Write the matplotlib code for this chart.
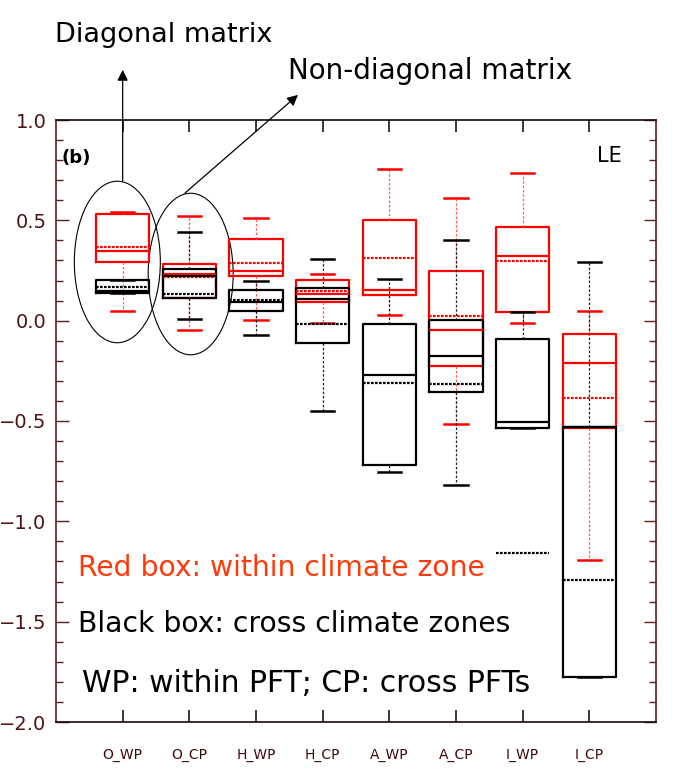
import matplotlib
matplotlib.use("Agg")
import matplotlib.pyplot as plt
from matplotlib.patches import Ellipse
from matplotlib.ticker import MultipleLocator, FixedLocator

plt.rcParams["xtick.direction"] = "in"
plt.rcParams["ytick.direction"] = "in"
plt.rcParams["xtick.top"] = True
plt.rcParams["xtick.bottom"] = True
plt.rcParams["xtick.major.size"] = 8.5
plt.rcParams["xtick.major.width"] = 1.1

categories = ["O_WP", "O_CP", "H_WP", "H_CP", "A_WP", "A_CP", "I_WP", "I_CP"]

# Red boxes: within climate zone
red_whishi = [0.540, 0.520, 0.510, 0.235, 0.755, 0.610, 0.735, 0.047]
red_q3     = [0.530, 0.283, 0.405, 0.203, 0.503, 0.248, 0.468, -0.067]
red_med    = [0.347, 0.235, 0.250, 0.133, 0.155, -0.048, 0.320, -0.212]
red_mean   = [0.367, 0.220, 0.288, 0.150, 0.313, 0.025, 0.297, -0.385]
red_q1     = [0.292, 0.115, 0.225, 0.093, 0.127, -0.228, 0.045, -0.537]
red_whislo = [0.047, -0.047, 0.005, -0.010, 0.030, -0.517, -0.012, -1.193]

# Black boxes: cross climate zones
blk_whishi = [0.203, 0.440, 0.200, 0.308, 0.208, 0.403, 0.043, 0.292]
blk_q3     = [0.203, 0.258, 0.155, 0.163, -0.015, 0.005, -0.093, -0.528]
blk_med    = [0.150, 0.225, 0.092, 0.110, -0.273, -0.175, -0.505, -0.528]
blk_mean   = [0.167, 0.133, 0.103, -0.017, -0.310, -0.317, -1.160, -1.290]
blk_q1     = [0.140, 0.113, 0.048, -0.113, -0.717, -0.355, -0.533, -1.778]
blk_whislo = [0.140, 0.008, -0.073, -0.452, -0.753, -0.820, -0.533, -1.778]

yticks = [1.0, 0.5, 0.0, -0.5, -1.0, -1.5, -2.0]

AXC = "#5a1e1e"

def stats(whislo, q1, med, mean, q3, whishi):
    out = []
    for a, b, c, d, e, f in zip(whislo, q1, med, mean, q3, whishi):
        out.append(dict(whislo=a, q1=b, med=c, mean=d, q3=e, whishi=f, fliers=[]))
    return out

fig = plt.figure(figsize=(6.88, 7.72), dpi=100)
ax = fig.add_axes([56/688, 1-722/772, 600/688, 602/772])

pos = list(range(1, len(categories) + 1))

def draw(st, col, wcol):
    ax.bxp(st, positions=pos, widths=0.8, capwidths=0.35, showfliers=False,
           showmeans=True, meanline=True, manage_ticks=False,
           boxprops=dict(color=col, lw=1.6),
           medianprops=dict(color=col, lw=1.6),
           meanprops=dict(color=col, lw=1.6, ls=(0, (1.2, 0.6))),
           whiskerprops=dict(color=wcol, lw=0.9, ls=(0, (2, 1.5))),
           capprops=dict(color=col, lw=1.8))

draw(stats(red_whislo, red_q1, red_med, red_mean, red_q3, red_whishi), "#ff0000", "#ff5a5a")
draw(stats(blk_whislo, blk_q1, blk_med, blk_mean, blk_q3, blk_whishi), "#000000", "#222222")

ax.set_xlim(0, 9)
ax.set_ylim(-2.0, 1.0)
ax.xaxis.set_major_locator(FixedLocator(pos))
ax.set_xticklabels(categories, fontsize=10, color="#3a0a0a")
ax.xaxis.set_ticks_position("both")
ax.set_yticks(yticks)
ax.set_yticklabels([f"{v:.1f}".replace("-", "\u2212") for v in yticks], fontsize=14, color="#4a1414")
ax.yaxis.set_minor_locator(MultipleLocator(0.1))
ax.yaxis.set_ticks_position("both")
ax.tick_params(axis="y", which="major", direction="in", length=9, width=1, color=AXC, pad=7)
ax.tick_params(axis="y", which="minor", direction="in", length=5, width=1, color=AXC)
ax.tick_params(axis="x", which="major", direction="in", length=8.5, width=1.1,
               color="black", pad=19, labelbottom=True, labeltop=False)
ax.spines["left"].set_color(AXC)
ax.spines["right"].set_color(AXC)
ax.spines["top"].set_color("#1a0808")
ax.spines["bottom"].set_color("#1a0808")
for s in ax.spines.values():
    s.set_linewidth(1.2)

# Ellipses around the first two groups
ax.add_patch(Ellipse((0.92, 0.2925), 1.29, 0.805, fill=False, ec="black", lw=0.8))
ax.add_patch(Ellipse((2.02, 0.2325), 1.275, 0.805, fill=False, ec="black", lw=0.8))

arrow = dict(arrowstyle="-|>", color="black", lw=0.9, mutation_scale=16, shrinkA=0, shrinkB=0)
ax.annotate("", xy=(1.0, 1.25), xytext=(1.0, 0.695), arrowprops=arrow, annotation_clip=False)
ax.annotate("", xy=(3.63, 1.125), xytext=(1.935, 0.636), arrowprops=arrow, annotation_clip=False)

fig.text(55/688, 1-35/772, "Diagonal matrix", fontsize=19.5, ha="left", va="center")
fig.text(288/688, 1-71/772, "Non-diagonal matrix", fontsize=20, ha="left", va="center")

fig.text(62/688, 1-158/772, "(b)", fontsize=13, fontweight="bold", ha="left", va="center")
fig.text(622/688, 1-156/772, "LE", fontsize=15, ha="right", va="center")

fig.text(78/688, 1-568/772, "Red box: within climate zone", fontsize=20.3, color="#ff3a0a",
         ha="left", va="center")
fig.text(78/688, 1-624/772, "Black box: cross climate zones", fontsize=20.3, color="black",
         ha="left", va="center")
fig.text(82/688, 1-683/772, "WP: within PFT; CP: cross PFTs", fontsize=21.5, color="black",
         ha="left", va="center")

fig.savefig("out.png", dpi=100)
